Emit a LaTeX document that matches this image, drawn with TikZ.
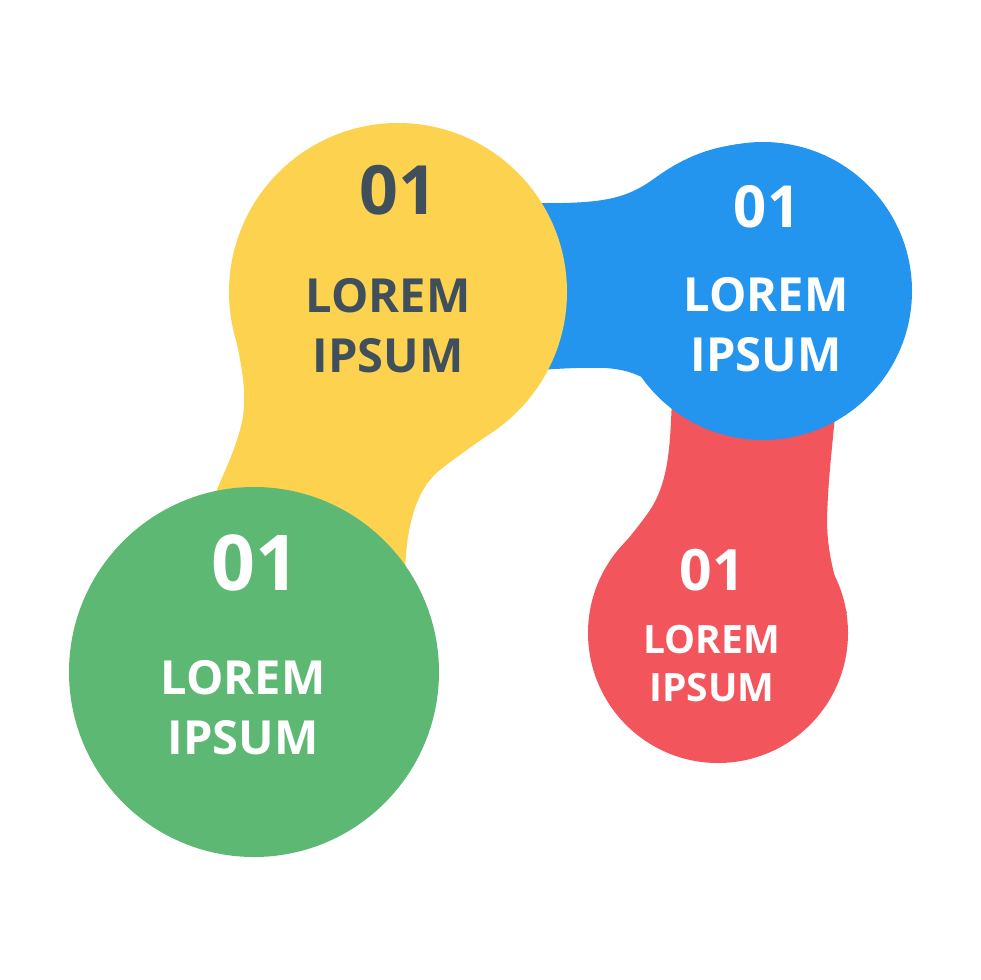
\documentclass[tikz,border=0pt]{standalone}
\usepackage{fontspec}
\setmainfont{Open Sans}
\definecolor{cyellow}{RGB}{253,210,79}
\definecolor{cblue}{RGB}{35,149,239}
\definecolor{cgreen}{RGB}{92,184,115}
\definecolor{cred}{RGB}{242,86,92}
\definecolor{cdark}{RGB}{63,79,91}
\tikzset{
  lbl/.style={inner sep=0pt, align=center},
  fsz/.style={font=\fontsize{#1}{#1}\selectfont\bfseries},
  blob/.style={circle, inner sep=0pt, minimum size=#1}
}
\begin{document}
\begin{tikzpicture}[x=1pt,y=-1pt]
\useasboundingbox (0,0) rectangle (980,980);
\fill[white] (0,0) rectangle (980,980);
% red neck and circle
\fill[cred] (700,380) -- (672,400) .. controls (670,440) and (670,480) .. (650,510)
  .. controls (630,540) and (600,565) .. (592,610) -- (718,633) -- (847,613)
  .. controls (837,588) and (827,555) .. (827,520)
  .. controls (828,480) and (832,450) .. (835,415) -- cycle;
\node[blob=260pt, fill=cred] (red) at (718,633) {};
% blue neck and circle
\fill[cblue] (530,203) .. controls (600,204) and (625,200) .. (655,178)
  .. controls (680,160) and (705,148) .. (740,144) -- (763,291) -- (680,412)
  .. controls (660,385) and (640,370) .. (605,368)
  .. controls (570,367) and (550,370) .. (530,370) -- cycle;
\node[blob=298pt, fill=cblue] (blue) at (763,291) {};
% yellow neck and circle
\fill[cyellow] (232,320) .. controls (240,360) and (250,395) .. (240,430)
  .. controls (232,460) and (215,490) .. (205,520) -- (405,590)
  .. controls (404,530) and (415,490) .. (440,470)
  .. controls (465,450) and (490,435) .. (507,420) -- (398,292) -- cycle;
\node[blob=338pt, fill=cyellow] (yellow) at (398,292) {};
% green circle
\node[blob=370pt, fill=cgreen] (green) at (254,672) {};
% texts
\node[lbl, fsz=68, text=cdark] (y1) at (398,190) {01};
\node[lbl, fsz=47, text=cdark] (y2) at (388,296) {LOREM};
\node[lbl, fsz=47, text=cdark] (y3) at (388,356) {IPSUM};
\node[lbl, fsz=58, text=white] (b1) at (767,207) {01};
\node[lbl, fsz=47, text=white] (b2) at (766,295) {LOREM};
\node[lbl, fsz=47, text=white] (b3) at (766,355) {IPSUM};
\node[lbl, fsz=77, text=white] (g1) at (255,563) {01};
\node[lbl, fsz=47, text=white] (g2) at (243,678) {LOREM};
\node[lbl, fsz=47, text=white] (g3) at (243,738) {IPSUM};
\node[lbl, fsz=57, text=white] (r1) at (712,570) {01};
\node[lbl, fsz=39, text=white] (r2) at (712,640) {LOREM};
\node[lbl, fsz=39, text=white] (r3) at (712,688) {IPSUM};
\end{tikzpicture}
\end{document}
